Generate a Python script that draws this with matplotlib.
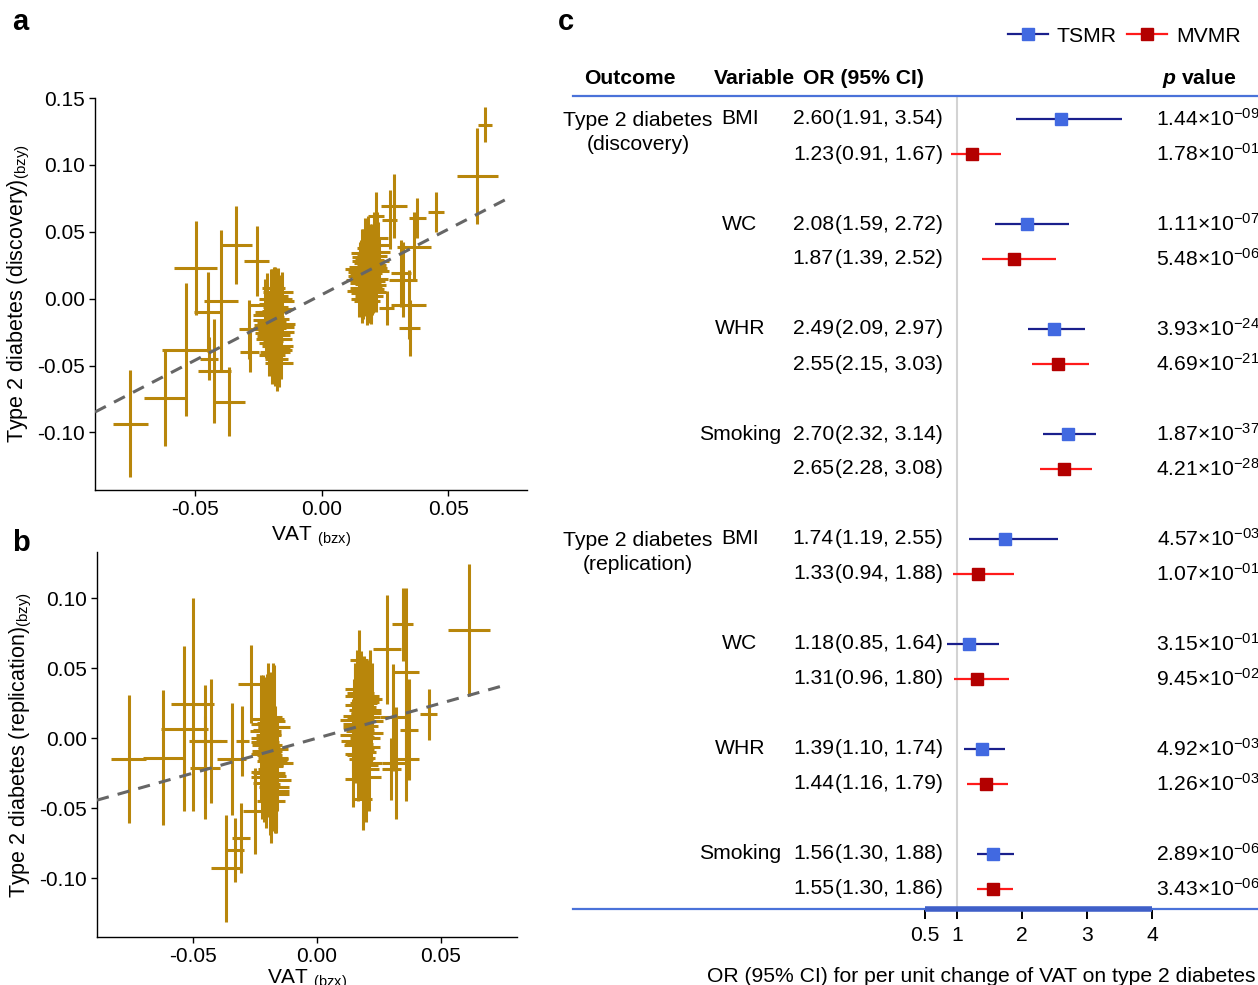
import numpy as np
import matplotlib
matplotlib.use("Agg")
import matplotlib.pyplot as plt
from matplotlib.lines import Line2D

plt.rcParams['font.family'] = ['Liberation Sans', 'DejaVu Sans']
plt.rcParams['mathtext.fontset'] = 'custom'
plt.rcParams['mathtext.rm'] = 'Liberation Sans'
plt.rcParams['mathtext.it'] = 'Liberation Sans:italic:bold'
plt.rcParams['mathtext.bf'] = 'Liberation Sans:bold'

# ---------------- panel a : discovery ----------------
a_out_x = [-0.0755, -0.0619, -0.0534, -0.0497, -0.0450, -0.0444, -0.0398, -0.0425, -0.0339, -0.0366,
           -0.0257, -0.0286, -0.0285, 0.0614, 0.0644, 0.0451, 0.0377, 0.0285, 0.0268, 0.0363,
           0.0313, 0.0320, 0.0343, 0.0347, 0.0257, 0.0214]
a_out_y = [-0.0933, -0.0740, -0.0380, 0.0230, -0.0100, -0.0450, -0.0020, -0.0540, 0.0400, -0.0770,
           0.0280, -0.0230, -0.0400, 0.0918, 0.1300, 0.0650, 0.0600, 0.0690, 0.0590, 0.0390,
           0.0190, 0.0140, -0.0045, -0.0220, -0.0070, 0.0620]
a_out_xerr = [0.0068, 0.0081, 0.0095, 0.0085, 0.0056, 0.0035, 0.0068, 0.0065, 0.0062, 0.0062,
              0.0049, 0.0039, 0.0037, 0.0081, 0.0027, 0.0033, 0.0034, 0.0051, 0.0030, 0.0068,
              0.0040, 0.0054, 0.0070, 0.0042, 0.0030, 0.0030]
a_out_yerr = [0.040, 0.036, 0.050, 0.035, 0.030, 0.016, 0.053, 0.039, 0.029, 0.026,
              0.026, 0.022, 0.015, 0.036, 0.013, 0.015, 0.015, 0.024, 0.022, 0.026,
              0.025, 0.028, 0.026, 0.021, 0.013, 0.018]

a_left_x = [-0.0215, -0.0195, -0.0180, -0.0205, -0.0170, -0.0225, -0.0160, -0.0190, -0.0175, -0.0200,
            -0.0210, -0.0168, -0.0185, -0.0195, -0.0158, -0.0205, -0.0178, -0.0220, -0.0172, -0.0192,
            -0.0212, -0.0182, -0.0162, -0.0202, -0.0188, -0.0170, -0.0183, -0.0198, -0.0208, -0.0176,
            -0.0193, -0.0166, -0.0218, -0.0186, -0.0201, -0.0174, -0.0196, -0.0181, -0.0207, -0.0164]
a_left_y = [-0.010, -0.020, 0.002, -0.030, -0.015, -0.005, -0.025, 0.008, -0.035, -0.018,
            -0.028, -0.008, -0.040, -0.012, -0.002, -0.022, -0.045, -0.016, 0.005, -0.032,
            -0.020, -0.006, -0.038, -0.026, -0.014, -0.048, 0.000, -0.010, -0.024, -0.030,
            -0.017, -0.036, -0.012, -0.027, -0.004, -0.021, -0.042, -0.009, -0.033, -0.019]
a_left_xerr = [0.0050, 0.0060, 0.0045, 0.0055, 0.0040, 0.0065, 0.0050, 0.0045, 0.0060, 0.0055,
               0.0045, 0.0055, 0.0060, 0.0040, 0.0050, 0.0065, 0.0045, 0.0050, 0.0060, 0.0040,
               0.0055, 0.0050, 0.0045, 0.0060, 0.0040, 0.0055, 0.0065, 0.0050, 0.0045, 0.0060,
               0.0050, 0.0040, 0.0055, 0.0060, 0.0045, 0.0065, 0.0050, 0.0055, 0.0040, 0.0060]
a_left_yerr = [0.022, 0.028, 0.018, 0.025, 0.030, 0.020, 0.024, 0.016, 0.022, 0.030,
               0.018, 0.026, 0.025, 0.034, 0.022, 0.020, 0.024, 0.028, 0.018, 0.020,
               0.025, 0.026, 0.022, 0.019, 0.030, 0.018, 0.024, 0.027, 0.021, 0.029,
               0.023, 0.020, 0.031, 0.024, 0.026, 0.019, 0.022, 0.028, 0.025, 0.021]

a_right_x = [0.0150, 0.0165, 0.0180, 0.0195, 0.0210, 0.0172, 0.0188, 0.0158, 0.0202, 0.0220,
             0.0168, 0.0185, 0.0145, 0.0198, 0.0215, 0.0162, 0.0178, 0.0192, 0.0208, 0.0148,
             0.0225, 0.0175, 0.0190, 0.0160, 0.0205, 0.0182, 0.0218, 0.0170, 0.0155, 0.0196,
             0.0186, 0.0164, 0.0212, 0.0176, 0.0200, 0.0152, 0.0184, 0.0194, 0.0167, 0.0206]
a_right_y = [0.020, 0.012, 0.030, 0.005, 0.025, 0.018, 0.002, 0.028, 0.015, 0.035,
             0.008, 0.022, 0.014, 0.032, 0.010, 0.024, -0.002, 0.019, 0.040, 0.006,
             0.028, 0.016, 0.026, 0.000, 0.021, 0.011, 0.045, 0.034, 0.017, 0.009,
             0.027, 0.004, 0.023, 0.031, 0.013, 0.022, 0.038, 0.007, 0.019, 0.029]
a_right_xerr = [0.0045, 0.0055, 0.0050, 0.0060, 0.0045, 0.0050, 0.0055, 0.0040, 0.0060, 0.0050,
                0.0055, 0.0045, 0.0050, 0.0060, 0.0040, 0.0055, 0.0050, 0.0045, 0.0060, 0.0050,
                0.0040, 0.0055, 0.0050, 0.0045, 0.0060, 0.0050, 0.0045, 0.0055, 0.0050, 0.0040,
                0.0060, 0.0050, 0.0045, 0.0055, 0.0050, 0.0060, 0.0045, 0.0050, 0.0055, 0.0040]
a_right_yerr = [0.020, 0.025, 0.018, 0.022, 0.028, 0.030, 0.020, 0.024, 0.026, 0.022,
                0.018, 0.030, 0.016, 0.024, 0.020, 0.028, 0.018, 0.022, 0.025, 0.020,
                0.018, 0.026, 0.030, 0.018, 0.024, 0.022, 0.020, 0.026, 0.027, 0.021,
                0.023, 0.019, 0.029, 0.022, 0.025, 0.020, 0.024, 0.026, 0.021, 0.028]
a_fit = (0.98, 0.003)  # slope, intercept

# ---------------- panel b : replication ----------------
b_out_x = [-0.0757, -0.0620, -0.0534, -0.0500, -0.0450, -0.0426, -0.0450, -0.0342, -0.0367, -0.0328,
           -0.0307, -0.0250, -0.0263, -0.0300, 0.0613, 0.0450, 0.0346, 0.0360, 0.0284, 0.0371,
           0.0360, 0.0320, 0.0305, 0.0300, 0.0186, 0.0145, 0.0214, 0.0170]
b_out_y = [-0.0148, -0.0138, 0.0067, 0.0243, -0.0017, -0.0020, -0.0210, -0.0148, -0.0930, -0.0800,
           -0.0714, -0.0520, 0.0386, -0.0020, 0.0774, 0.0170, 0.0814, 0.0476, 0.0636, 0.0060,
           -0.0150, -0.0180, 0.0148, -0.0220, -0.0436, -0.0290, 0.0298, 0.0560]
b_out_xerr = [0.0070, 0.0080, 0.0095, 0.0087, 0.0063, 0.0063, 0.0060, 0.0058, 0.0060, 0.0035,
              0.0036, 0.0049, 0.0054, 0.0025, 0.0083, 0.0033, 0.0042, 0.0050, 0.0056, 0.0037,
              0.0052, 0.0056, 0.0049, 0.0037, 0.0035, 0.0030, 0.0035, 0.0038]
b_out_yerr = [0.046, 0.048, 0.059, 0.076, 0.040, 0.044, 0.037, 0.040, 0.038, 0.023,
              0.025, 0.031, 0.028, 0.025, 0.047, 0.018, 0.026, 0.060, 0.039, 0.036,
              0.030, 0.040, 0.038, 0.022, 0.022, 0.020, 0.033, 0.021]

b_left_x = [-0.0215, -0.0200, -0.0185, -0.0170, -0.0225, -0.0192, -0.0178, -0.0208, -0.0165, -0.0198,
            -0.0182, -0.0212, -0.0172, -0.0205, -0.0188, -0.0160, -0.0220, -0.0195, -0.0175, -0.0202,
            -0.0168, -0.0190, -0.0210, -0.0180, -0.0198, -0.0185, -0.0172, -0.0205, -0.0193, -0.0177,
            -0.0214, -0.0186, -0.0166, -0.0203, -0.0181, -0.0196, -0.0173, -0.0209, -0.0189, -0.0199]
b_left_y = [0.010, -0.005, 0.015, -0.015, 0.000, -0.025, 0.012, -0.010, -0.030, 0.005,
            -0.020, 0.005, -0.035, -0.002, 0.008, -0.018, -0.028, 0.002, -0.008, 0.011,
            -0.040, -0.012, 0.006, -0.016, -0.022, -0.045, 0.008, -0.032, -0.006, -0.014,
            -0.024, 0.003, -0.038, -0.011, -0.019, 0.014, -0.027, -0.003, -0.033, -0.009]
b_left_xerr = [0.0050, 0.0060, 0.0045, 0.0055, 0.0040, 0.0065, 0.0050, 0.0045, 0.0060, 0.0055,
               0.0045, 0.0055, 0.0060, 0.0040, 0.0050, 0.0065, 0.0045, 0.0050, 0.0060, 0.0040,
               0.0055, 0.0050, 0.0045, 0.0060, 0.0040, 0.0055, 0.0065, 0.0050, 0.0045, 0.0060,
               0.0050, 0.0040, 0.0055, 0.0060, 0.0045, 0.0065, 0.0050, 0.0055, 0.0040, 0.0060]
b_left_yerr = [0.035, 0.040, 0.032, 0.038, 0.045, 0.030, 0.042, 0.036, 0.034, 0.040,
               0.044, 0.032, 0.030, 0.046, 0.036, 0.034, 0.030, 0.038, 0.048, 0.035,
               0.028, 0.042, 0.036, 0.050, 0.034, 0.030, 0.044, 0.032, 0.040, 0.038,
               0.036, 0.042, 0.030, 0.046, 0.034, 0.040, 0.032, 0.044, 0.036, 0.038]

b_right_x = [0.0150, 0.0165, 0.0180, 0.0195, 0.0210, 0.0172, 0.0188, 0.0158, 0.0202, 0.0218,
             0.0168, 0.0185, 0.0145, 0.0198, 0.0212, 0.0162, 0.0178, 0.0192, 0.0205, 0.0148,
             0.0222, 0.0175, 0.0190, 0.0160, 0.0200, 0.0182, 0.0215, 0.0170, 0.0155, 0.0194,
             0.0186, 0.0164, 0.0208, 0.0176, 0.0196, 0.0152, 0.0184, 0.0201, 0.0167, 0.0179]
b_right_y = [0.010, -0.005, 0.020, 0.000, 0.015, -0.012, 0.025, 0.005, -0.018, 0.012,
             0.030, -0.008, 0.002, 0.018, -0.022, 0.008, -0.015, 0.022, 0.004, -0.002,
             0.028, 0.014, -0.010, 0.035, -0.028, 0.006, 0.020, -0.004, 0.016, -0.014,
             0.009, 0.024, -0.006, 0.032, -0.019, 0.013, 0.001, 0.026, -0.011, 0.017]
b_right_xerr = [0.0045, 0.0055, 0.0050, 0.0060, 0.0045, 0.0050, 0.0055, 0.0040, 0.0060, 0.0050,
                0.0055, 0.0045, 0.0050, 0.0060, 0.0040, 0.0055, 0.0050, 0.0045, 0.0060, 0.0050,
                0.0040, 0.0055, 0.0050, 0.0045, 0.0060, 0.0050, 0.0045, 0.0055, 0.0050, 0.0040,
                0.0060, 0.0050, 0.0045, 0.0055, 0.0050, 0.0060, 0.0045, 0.0050, 0.0055, 0.0040]
b_right_yerr = [0.032, 0.028, 0.030, 0.036, 0.038, 0.030, 0.034, 0.036, 0.030, 0.032,
                0.028, 0.036, 0.026, 0.034, 0.030, 0.040, 0.028, 0.032, 0.036, 0.030,
                0.026, 0.032, 0.034, 0.028, 0.032, 0.040, 0.030, 0.034, 0.038, 0.030,
                0.036, 0.028, 0.034, 0.030, 0.032, 0.038, 0.036, 0.030, 0.034, 0.032]
b_fit = (0.50, 0.0)

# ---------------- panel c : forest ----------------
outcomes = ["Type 2 diabetes\n(discovery)", "Type 2 diabetes\n(replication)"]
variables = ["BMI", "WC", "WHR", "Smoking"]
tsmr_or = [2.60, 2.08, 2.49, 2.70, 1.74, 1.18, 1.39, 1.56]
tsmr_lo = [1.91, 1.59, 2.09, 2.32, 1.19, 0.85, 1.10, 1.30]
tsmr_hi = [3.54, 2.72, 2.97, 3.14, 2.55, 1.64, 1.74, 1.88]
tsmr_p = ["1.44×10$^{-09}$", "1.11×10$^{-07}$", "3.93×10$^{-24}$", "1.87×10$^{-37}$",
          "4.57×10$^{-03}$", "3.15×10$^{-01}$", "4.92×10$^{-03}$", "2.89×10$^{-06}$"]
mvmr_or = [1.23, 1.87, 2.55, 2.65, 1.33, 1.31, 1.44, 1.55]
mvmr_lo = [0.91, 1.39, 2.15, 2.28, 0.94, 0.96, 1.16, 1.30]
mvmr_hi = [1.67, 2.52, 3.03, 3.08, 1.88, 1.80, 1.79, 1.86]
mvmr_p = ["1.78×10$^{-01}$", "5.48×10$^{-06}$", "4.69×10$^{-21}$", "4.21×10$^{-28}$",
          "1.07×10$^{-01}$", "9.45×10$^{-02}$", "1.26×10$^{-03}$", "3.43×10$^{-06}$"]
or_ticks = [0.5, 1, 2, 3, 4]

GOLD = "#B8860B"
W, H = 1258, 985
fig = plt.figure(figsize=(W / 100, H / 100), dpi=100)


def px_axes(l, t, r, b):
    return fig.add_axes([l / W, 1 - b / H, (r - l) / W, (b - t) / H])


def scatter_panel(ax, parts, fit, xlim, ylim, yticks, ylabel):
    for xs, ys, xe, ye in parts:
        ax.errorbar(xs, ys, xerr=xe, yerr=ye, fmt='none', ecolor=GOLD,
                    elinewidth=2.2, capsize=0)
    fx = np.array([xlim[0], 0.075])
    ax.plot(fx, fit[0] * fx + fit[1], color='#666666', lw=2.2,
            dashes=(4, 3), zorder=3)
    ax.set_xlim(*xlim)
    ax.set_ylim(*ylim)
    ax.set_xticks([-0.05, 0.0, 0.05])
    ax.set_xticklabels(["-0.05", "0.00", "0.05"])
    ax.set_yticks(yticks)
    ax.set_yticklabels(["%.2f" % v for v in yticks])
    for s in ['top', 'right']:
        ax.spines[s].set_visible(False)
    for s in ['left', 'bottom']:
        ax.spines[s].set_linewidth(1.0)
    ax.tick_params(labelsize=15, length=4, width=1.0, pad=3)
    ax.set_xlabel("VAT ${}_{\\rm (bzx)}$", fontsize=15, labelpad=4)
    ax.set_ylabel(ylabel, fontsize=15.5, labelpad=4)


ax_a = px_axes(95, 98, 527, 490)
scatter_panel(ax_a,
              [(a_out_x, a_out_y, a_out_xerr, a_out_yerr),
               (a_left_x, a_left_y, a_left_xerr, a_left_yerr),
               (a_right_x, a_right_y, a_right_xerr, a_right_yerr)],
              a_fit, (-0.0895, 0.081), (-0.143, 0.15),
              [0.15, 0.10, 0.05, 0.0, -0.05, -0.10],
              "Type 2 diabetes (discovery)${}_{\\rm (bzy)}$")

ax_b = px_axes(97, 552, 517, 937)
scatter_panel(ax_b,
              [(b_out_x, b_out_y, b_out_xerr, b_out_yerr),
               (b_left_x, b_left_y, b_left_xerr, b_left_yerr),
               (b_right_x, b_right_y, b_right_xerr, b_right_yerr)],
              b_fit, (-0.0885, 0.0806), (-0.142, 0.133),
              [0.10, 0.05, 0.0, -0.05, -0.10],
              "Type 2 diabetes (replication)${}_{\\rm (bzy)}$")
ax_b.xaxis.labelpad = 1

fig.text(12 / W, 1 - 22 / H, "a", fontsize=21, fontweight='bold', va='center')
fig.text(12 / W, 1 - 543 / H, "b", fontsize=21, fontweight='bold', va='center')
fig.text(558 / W, 1 - 22 / H, "c", fontsize=21, fontweight='bold', va='center')

# forest axes: 65 px per OR unit, OR=1 at x=957 px; rows 35 px apart from y=119
ax_c = px_axes(573, 96, 1258, 909)
ax_c.set_xlim(1 - (957 - 573) / 65, 1 + (1258 - 957) / 65)
ax_c.set_ylim((909 - 119) / 35, (96 - 119) / 35)
px2or = lambda p: 1 + (p - 957) / 65

BLUE_LINE = "#4A72D9"
T_LINE, T_MK = "#1A1F8C", "#4169E1"
M_LINE, M_MK = "#FF1A1A", "#B30000"

rows_t = [3 * g for g in range(len(tsmr_or))]
rows_m = [3 * g + 1 for g in range(len(mvmr_or))]

ax_c.axvline(1, color='#D3D3D3', lw=1.5, zorder=0)
ax_c.errorbar(tsmr_or, rows_t,
              xerr=[np.subtract(tsmr_or, tsmr_lo), np.subtract(tsmr_hi, tsmr_or)],
              fmt='s', color=T_LINE, mfc=T_MK, mec=T_MK, ms=9, elinewidth=1.6, capsize=0)
ax_c.errorbar(mvmr_or, rows_m,
              xerr=[np.subtract(mvmr_or, mvmr_lo), np.subtract(mvmr_hi, mvmr_or)],
              fmt='s', color=M_LINE, mfc=M_MK, mec=M_MK, ms=9, elinewidth=1.6, capsize=0)

fs = 15.2
for g in range(len(tsmr_or)):
    for r, est, lo, hi, p in [(rows_t[g], tsmr_or[g], tsmr_lo[g], tsmr_hi[g], tsmr_p[g]),
                              (rows_m[g], mvmr_or[g], mvmr_lo[g], mvmr_hi[g], mvmr_p[g])]:
        ax_c.text(px2or(834), r, "%.2f" % est, ha='right', va='center', fontsize=fs)
        ax_c.text(px2or(835), r, "(%.2f, %.2f)" % (lo, hi), ha='left', va='center', fontsize=fs)
        ax_c.text(px2or(1260), r, p, ha='right', va='center', fontsize=fs)
    ax_c.text(px2or(740), rows_t[g], variables[g % 4], ha='center', va='center', fontsize=fs)

for i, name in enumerate(outcomes):
    ax_c.text(px2or(638), rows_t[4 * i] - 0.22, name, ha='center', va='top',
              fontsize=fs, linespacing=1.3)

hy = (78 - 119) / 35
ax_c.text(px2or(630), hy, "Outcome", ha='center', va='center', fontsize=fs, fontweight='bold')
ax_c.text(px2or(754), hy, "Variable", ha='center', va='center', fontsize=fs, fontweight='bold')
ax_c.text(px2or(863), hy, "OR (95% CI)", ha='center', va='center', fontsize=fs, fontweight='bold')
ax_c.text(px2or(1237), hy, "$p$ value", ha='right', va='center',
          fontsize=fs, fontweight='bold')

for s in ['left', 'right']:
    ax_c.spines[s].set_visible(False)
for s in ['top', 'bottom']:
    ax_c.spines[s].set_color(BLUE_LINE)
    ax_c.spines[s].set_linewidth(1.6)
ax_c.set_yticks([])
ax_c.set_xticks(or_ticks)
ax_c.set_xticklabels([("%g" % t) for t in or_ticks])
ax_c.tick_params(axis='x', labelsize=fs, length=7, width=1.4, color='black', pad=5)
ax_c.hlines(ax_c.get_ylim()[0], or_ticks[0], or_ticks[-1], color='#3F5FC8', lw=4,
            clip_on=False, zorder=4)
ax_c.set_xlabel("OR (95% CI) for per unit change of VAT on type 2 diabetes", fontsize=fs)
ax_c.xaxis.set_label_coords(0.996, -0.071)
ax_c.xaxis.label.set_ha('right')

handles = [Line2D([], [], color=T_LINE, lw=1.6, marker='s', ms=9, mfc=T_MK, mec=T_MK),
           Line2D([], [], color=M_LINE, lw=1.6, marker='s', ms=9, mfc=M_MK, mec=M_MK)]
fig.legend(handles, ["TSMR", "MVMR"], ncol=2, frameon=False, fontsize=fs,
           loc='center right', bbox_to_anchor=(1251 / W, 1 - 36 / H),
           handlelength=1.9, handletextpad=0.4, columnspacing=0.5, borderpad=0)

fig.savefig("out.png", dpi=100)
